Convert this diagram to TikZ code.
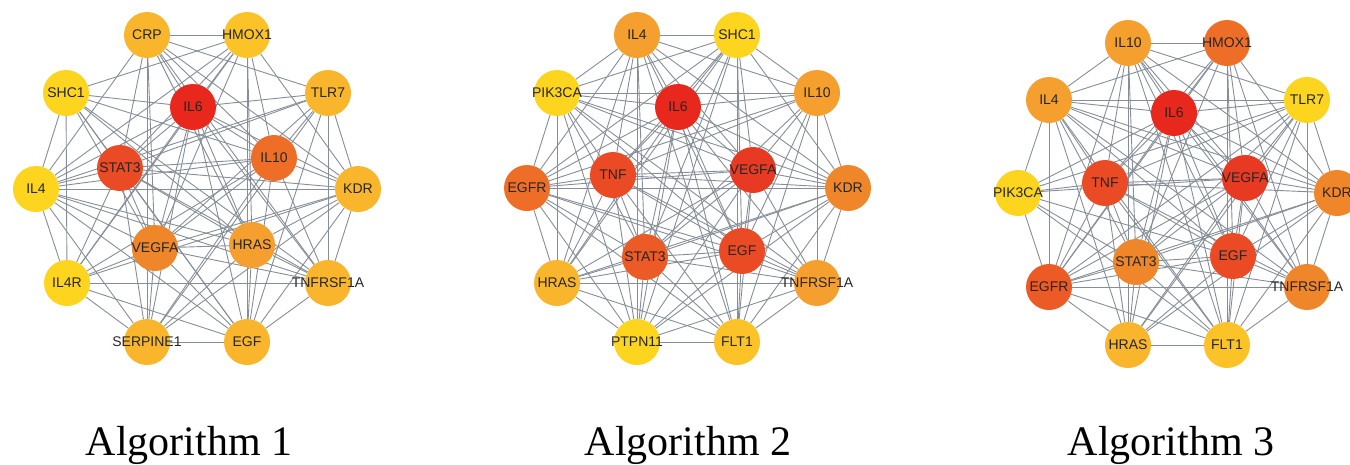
\documentclass[tikz,border=0pt]{standalone}
\usepackage{fontspec}
\setmainfont{Liberation Serif}
\newfontfamily\genefont{Liberation Sans}
\usepackage{tikz}
\usetikzlibrary{positioning}

\definecolor{hot1}{HTML}{E8281C}
\definecolor{hot2}{HTML}{E83A22}
\definecolor{hot3}{HTML}{EA4B24}
\definecolor{hot4}{HTML}{EC5A26}
\definecolor{hot5}{HTML}{EE6E28}
\definecolor{hot6}{HTML}{F0862A}
\definecolor{hot7}{HTML}{F5A02E}
\definecolor{hot8}{HTML}{F9B62C}
\definecolor{hot9}{HTML}{FBC328}
\definecolor{hot10}{HTML}{FDD41E}
\definecolor{linkgray}{HTML}{858E97}
\definecolor{genetext}{HTML}{262626}

\pgfdeclarelayer{bg}
\pgfsetlayers{bg,main}

\begin{document}
\begin{tikzpicture}[x=1pt, y=-1pt,
  gene/.style={circle, fill=#1, minimum size=46pt, inner sep=0pt, text=genetext, font=\genefont\fontsize{14}{14}\selectfont},
  link/.style={draw=linkgray, line width=0.9pt},
  title/.style={anchor=base, font=\fontsize{42}{42}\selectfont}]
  \useasboundingbox (0,0) rectangle (1350,464);

  % Algorithm 1
  \node[gene=hot8] (CRPa) at (147,35) {CRP};
  \node[gene=hot9] (HMOX1a) at (247,35) {\makebox[0pt]{HMOX1}};
  \node[gene=hot10] (SHC1a) at (66,93) {SHC1};
  \node[gene=hot8] (TLR7a) at (328,93) {TLR7};
  \node[gene=hot1] (IL6a) at (193,107) {IL6};
  \node[gene=hot5] (IL10a) at (274,158) {IL10};
  \node[gene=hot3] (STAT3a) at (120,168) {\makebox[0pt]{STAT3}};
  \node[gene=hot10] (IL4a) at (36,189) {IL4};
  \node[gene=hot8] (KDRa) at (358,189) {KDR};
  \node[gene=hot6] (VEGFAa) at (155,248) {\makebox[0pt]{VEGFA}};
  \node[gene=hot7] (HRASa) at (252,245) {HRAS};
  \node[gene=hot10] (IL4Ra) at (67,283) {IL4R};
  \node[gene=hot8] (TNFRSF1Aa) at (328,283) {\makebox[0pt]{TNFRSF1A}};
  \node[gene=hot8] (SERPINE1a) at (147,342) {\makebox[0pt]{SERPINE1}};
  \node[gene=hot8] (EGFa) at (247,342) {EGF};
  \node[title] (algo1) at (189,455) {Algorithm 1};

  % Algorithm 2
  \node[gene=hot7] (IL4b) at (637,35) {IL4};
  \node[gene=hot10] (SHC1b) at (737,35) {SHC1};
  \node[gene=hot10] (PIK3CAb) at (557,93) {\makebox[0pt]{PIK3CA}};
  \node[gene=hot7] (IL10b) at (817,93) {IL10};
  \node[gene=hot1] (IL6b) at (678,107) {IL6};
  \node[gene=hot3] (TNFb) at (613,175) {TNF};
  \node[gene=hot2] (VEGFAb) at (753,170) {\makebox[0pt]{VEGFA}};
  \node[gene=hot5] (EGFRb) at (527,188) {EGFR};
  \node[gene=hot6] (KDRb) at (848,188) {KDR};
  \node[gene=hot4] (STAT3b) at (645,257) {\makebox[0pt]{STAT3}};
  \node[gene=hot3] (EGFb) at (742,251) {EGF};
  \node[gene=hot8] (HRASb) at (557,283) {HRAS};
  \node[gene=hot7] (TNFRSF1Ab) at (817,283) {\makebox[0pt]{TNFRSF1A}};
  \node[gene=hot10] (PTPN11b) at (637,342) {\makebox[0pt]{PTPN11}};
  \node[gene=hot9] (FLT1b) at (737,342) {FLT1};
  \node[title] (algo2) at (688,455) {Algorithm 2};

  % Algorithm 3
  \node[gene=hot7] (IL10c) at (1128,43) {IL10};
  \node[gene=hot5] (HMOX1c) at (1227,43) {\makebox[0pt]{HMOX1}};
  \node[gene=hot7] (IL4c) at (1049,100) {IL4};
  \node[gene=hot10] (TLR7c) at (1307,100) {TLR7};
  \node[gene=hot1] (IL6c) at (1174,113) {IL6};
  \node[gene=hot3] (TNFc) at (1105,183) {TNF};
  \node[gene=hot2] (VEGFAc) at (1245,178) {\makebox[0pt]{VEGFA}};
  \node[gene=hot10] (PIK3CAc) at (1018,193) {\makebox[0pt]{PIK3CA}};
  \node[gene=hot6] (KDRc) at (1337,193) {KDR};
  \node[gene=hot6] (STAT3c) at (1136,262) {\makebox[0pt]{STAT3}};
  \node[gene=hot3] (EGFc) at (1233,256) {EGF};
  \node[gene=hot4] (EGFRc) at (1049,287) {EGFR};
  \node[gene=hot6] (TNFRSF1Ac) at (1307,287) {\makebox[0pt]{TNFRSF1A}};
  \node[gene=hot8] (HRASc) at (1128,345) {HRAS};
  \node[gene=hot9] (FLT1c) at (1227,345) {FLT1};
  \node[title] (algo3) at (1171,455) {Algorithm 3};

  \begin{pgfonlayer}{bg}
    % edges, Algorithm 1
    \draw[link] (IL6a) edge (CRPa) edge (HMOX1a) edge (SHC1a) edge (TLR7a) edge (IL10a) edge (STAT3a) edge (IL4a) edge (KDRa) edge (VEGFAa) edge (HRASa) edge (IL4Ra) edge (TNFRSF1Aa) edge (SERPINE1a) edge (EGFa);
    \draw[link] (STAT3a) edge (CRPa) edge (HMOX1a) edge (SHC1a) edge (TLR7a) edge (IL10a) edge (IL4a) edge (KDRa) edge (VEGFAa) edge (HRASa) edge (IL4Ra) edge (TNFRSF1Aa) edge (SERPINE1a) edge (EGFa);
    \draw[link] (IL10a) edge (CRPa) edge (HMOX1a) edge (SHC1a) edge (TLR7a) edge (IL4a) edge (KDRa) edge (VEGFAa) edge (IL4Ra) edge (SERPINE1a) edge (EGFa) edge (TNFRSF1Aa);
    \draw[link] (VEGFAa) edge (CRPa) edge (HMOX1a) edge (SHC1a) edge (TLR7a) edge (IL4a) edge (KDRa) edge (HRASa) edge (IL4Ra) edge (TNFRSF1Aa) edge (SERPINE1a) edge (EGFa);
    \draw[link] (HRASa) edge (CRPa) edge (HMOX1a) edge (SHC1a) edge (IL4a) edge (KDRa) edge (TNFRSF1Aa) edge (SERPINE1a) edge (EGFa);
    \draw[link] (CRPa) edge (HMOX1a) edge (SERPINE1a) edge (TLR7a) edge (IL4a) edge (TNFRSF1Aa) edge (KDRa);
    \draw[link] (HMOX1a) edge (EGFa) edge (SHC1a) edge (IL4a) edge (IL4Ra) edge (KDRa);
    \draw[link] (SHC1a) edge (IL4Ra) edge (IL4a) edge (EGFa) edge (TNFRSF1Aa);
    \draw[link] (TLR7a) edge (TNFRSF1Aa) edge (KDRa) edge (IL4a) edge (SERPINE1a) edge (EGFa);
    \draw[link] (IL4a) edge (KDRa) edge (IL4Ra) edge (SERPINE1a) edge (EGFa) edge (TNFRSF1Aa);
    \draw[link] (KDRa) edge (TNFRSF1Aa) edge (SERPINE1a) edge (IL4Ra) edge (EGFa);
    \draw[link] (IL4Ra) edge (TNFRSF1Aa) edge (SERPINE1a) edge (EGFa);
    \draw[link] (SERPINE1a) -- (EGFa);
    \draw[link] (EGFa) -- (TNFRSF1Aa);

    % edges, Algorithm 2
    \draw[link] (IL6b) edge (IL4b) edge (SHC1b) edge (PIK3CAb) edge (IL10b) edge (TNFb) edge (VEGFAb) edge (EGFRb) edge (KDRb) edge (STAT3b) edge (EGFb) edge (HRASb) edge (TNFRSF1Ab) edge (PTPN11b) edge (FLT1b);
    \draw[link] (VEGFAb) edge (IL4b) edge (SHC1b) edge (PIK3CAb) edge (IL10b) edge (TNFb) edge (EGFRb) edge (KDRb) edge (STAT3b) edge (EGFb) edge (HRASb) edge (TNFRSF1Ab) edge (PTPN11b) edge (FLT1b);
    \draw[link] (TNFb) edge (IL4b) edge (SHC1b) edge (PIK3CAb) edge (IL10b) edge (EGFRb) edge (KDRb) edge (STAT3b) edge (EGFb) edge (HRASb) edge (TNFRSF1Ab) edge (PTPN11b) edge (FLT1b);
    \draw[link] (EGFb) edge (IL4b) edge (SHC1b) edge (PIK3CAb) edge (IL10b) edge (EGFRb) edge (KDRb) edge (STAT3b) edge (HRASb) edge (TNFRSF1Ab) edge (PTPN11b) edge (FLT1b);
    \draw[link] (STAT3b) edge (IL4b) edge (SHC1b) edge (PIK3CAb) edge (IL10b) edge (EGFRb) edge (KDRb) edge (HRASb) edge (TNFRSF1Ab) edge (PTPN11b) edge (FLT1b);
    \draw[link] (EGFRb) edge (IL4b) edge (SHC1b) edge (PIK3CAb) edge (KDRb) edge (HRASb) edge (PTPN11b) edge (FLT1b) edge (TNFRSF1Ab) edge (IL10b);
    \draw[link] (KDRb) edge (IL4b) edge (SHC1b) edge (IL10b) edge (FLT1b) edge (TNFRSF1Ab) edge (PIK3CAb) edge (HRASb) edge (PTPN11b);
    \draw[link] (IL4b) edge (SHC1b) edge (PIK3CAb) edge (IL10b) edge (FLT1b) edge (PTPN11b) edge (HRASb);
    \draw[link] (IL10b) edge (SHC1b) edge (TNFRSF1Ab) edge (FLT1b) edge (PIK3CAb);
    \draw[link] (SHC1b) edge (PIK3CAb) edge (FLT1b) edge (PTPN11b) edge (HRASb);
    \draw[link] (PIK3CAb) edge (HRASb) edge (PTPN11b) edge (TNFRSF1Ab);
    \draw[link] (HRASb) edge (PTPN11b) edge (FLT1b) edge (TNFRSF1Ab);
    \draw[link] (PTPN11b) edge (FLT1b) edge (TNFRSF1Ab);
    \draw[link] (FLT1b) -- (TNFRSF1Ab);

    % edges, Algorithm 3
    \draw[link] (IL6c) edge (IL10c) edge (HMOX1c) edge (IL4c) edge (TLR7c) edge (TNFc) edge (VEGFAc) edge (PIK3CAc) edge (KDRc) edge (STAT3c) edge (EGFc) edge (EGFRc) edge (TNFRSF1Ac) edge (HRASc) edge (FLT1c);
    \draw[link] (VEGFAc) edge (IL10c) edge (HMOX1c) edge (IL4c) edge (TLR7c) edge (TNFc) edge (PIK3CAc) edge (KDRc) edge (STAT3c) edge (EGFc) edge (EGFRc) edge (TNFRSF1Ac) edge (HRASc) edge (FLT1c);
    \draw[link] (TNFc) edge (IL10c) edge (HMOX1c) edge (IL4c) edge (TLR7c) edge (PIK3CAc) edge (KDRc) edge (STAT3c) edge (EGFc) edge (EGFRc) edge (TNFRSF1Ac) edge (HRASc) edge (FLT1c);
    \draw[link] (EGFc) edge (IL10c) edge (HMOX1c) edge (IL4c) edge (TLR7c) edge (PIK3CAc) edge (KDRc) edge (STAT3c) edge (EGFRc) edge (TNFRSF1Ac) edge (HRASc) edge (FLT1c);
    \draw[link] (EGFRc) edge (IL10c) edge (IL4c) edge (PIK3CAc) edge (KDRc) edge (STAT3c) edge (HRASc) edge (FLT1c) edge (TLR7c);
    \draw[link] (HMOX1c) edge (IL10c) edge (IL4c) edge (STAT3c) edge (TNFRSF1Ac) edge (KDRc) edge (FLT1c) edge (EGFRc);
    \draw[link] (STAT3c) edge (IL10c) edge (IL4c) edge (TLR7c) edge (PIK3CAc) edge (KDRc) edge (TNFRSF1Ac) edge (HRASc) edge (FLT1c);
    \draw[link] (KDRc) edge (IL10c) edge (IL4c) edge (TLR7c) edge (TNFRSF1Ac) edge (HRASc) edge (FLT1c);
    \draw[link] (TNFRSF1Ac) edge (IL10c) edge (IL4c) edge (TLR7c) edge (EGFRc) edge (FLT1c);
    \draw[link] (IL10c) edge (IL4c) edge (TLR7c) edge (HRASc) edge (FLT1c);
    \draw[link] (IL4c) edge (TLR7c) edge (PIK3CAc) edge (HRASc) edge (FLT1c);
    \draw[link] (HRASc) edge (FLT1c) edge (TLR7c);
    \draw[link] (PIK3CAc) edge (FLT1c) edge (TLR7c);
    \draw[link] (TLR7c) -- (FLT1c);
  \end{pgfonlayer}
\end{tikzpicture}
\end{document}
